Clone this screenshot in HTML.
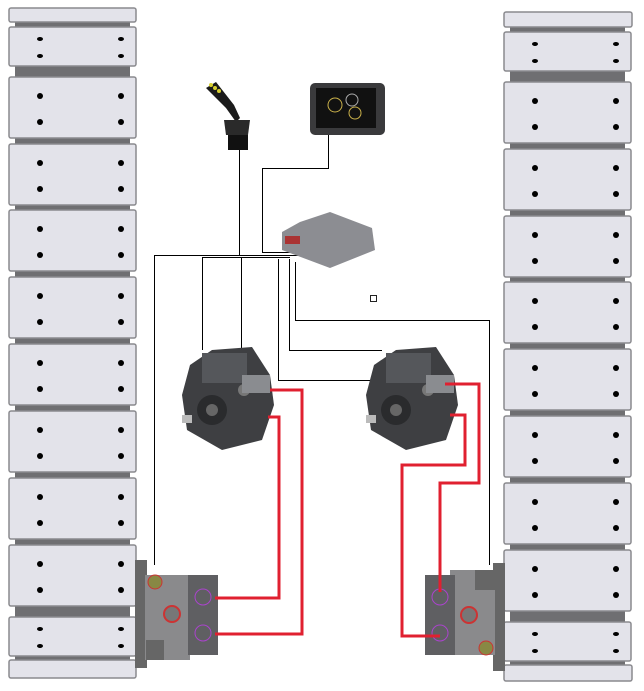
<!DOCTYPE html>
<html><head><style>html,body{margin:0;padding:0;background:#fff;width:644px;height:691px;overflow:hidden}</style></head>
<body>
<svg width="644" height="691" viewBox="0 0 644 691" xmlns="http://www.w3.org/2000/svg">
<defs>
<g id="blk"><rect x="0" y="0" width="127" height="61" rx="2" fill="#e3e3ea" stroke="#8a8a8e" stroke-width="1.5"/>
<circle cx="31" cy="19" r="3" fill="#000"/><circle cx="112" cy="19" r="3" fill="#000"/>
<circle cx="31" cy="45" r="3" fill="#000"/><circle cx="112" cy="45" r="3" fill="#000"/></g>
<g id="sblk"><rect x="0" y="0" width="127" height="39" rx="2" fill="#e3e3ea" stroke="#8a8a8e" stroke-width="1.5"/>
<ellipse cx="31" cy="12" rx="3" ry="2" fill="#000"/><ellipse cx="112" cy="12" rx="3" ry="2" fill="#000"/>
<ellipse cx="31" cy="29" rx="3" ry="2" fill="#000"/><ellipse cx="112" cy="29" rx="3" ry="2" fill="#000"/></g>
<g id="pump">
<path d="M8,20 L30,5 L70,2 L88,30 L92,60 L80,95 L40,105 L5,85 L0,50 Z" fill="#3e3f42"/>
<rect x="20" y="8" width="45" height="30" fill="#55575b"/>
<circle cx="30" cy="65" r="15" fill="#2a2b2d"/><circle cx="30" cy="65" r="6" fill="#666"/>
<circle cx="62" cy="45" r="6" fill="#777"/><rect x="60" y="30" width="28" height="18" fill="#8a8c90"/>
<rect x="0" y="70" width="10" height="8" fill="#bbb"/>
</g>
</defs>
<rect x="15" y="22" width="115" height="56" fill="#6f6f72"/>
<rect x="15" y="138" width="115" height="480" fill="#6f6f72"/>
<rect x="15" y="600" width="115" height="65" fill="#6f6f72"/>
<rect x="9" y="8" width="127" height="14" rx="2" fill="#e3e3ea" stroke="#8a8a8e" stroke-width="1.5"/>
<use href="#sblk" x="9" y="27"/>
<use href="#blk" x="9" y="77"/><use href="#blk" x="9" y="144"/><use href="#blk" x="9" y="210"/>
<use href="#blk" x="9" y="277"/><use href="#blk" x="9" y="344"/><use href="#blk" x="9" y="411"/>
<use href="#blk" x="9" y="478"/><use href="#blk" x="9" y="545"/>
<use href="#sblk" x="9" y="617"/>
<rect x="9" y="660" width="127" height="18" rx="2" fill="#e3e3ea" stroke="#8a8a8e" stroke-width="1.5"/>
<rect x="510" y="26" width="115" height="56" fill="#6f6f72"/>
<rect x="510" y="143" width="115" height="480" fill="#6f6f72"/>
<rect x="510" y="605" width="115" height="65" fill="#6f6f72"/>
<rect x="504" y="12" width="128" height="15" rx="2" fill="#e3e3ea" stroke="#8a8a8e" stroke-width="1.5"/>
<use href="#sblk" x="504" y="32"/>
<use href="#blk" x="504" y="82"/><use href="#blk" x="504" y="149"/><use href="#blk" x="504" y="216"/>
<use href="#blk" x="504" y="282"/><use href="#blk" x="504" y="349"/><use href="#blk" x="504" y="416"/>
<use href="#blk" x="504" y="483"/><use href="#blk" x="504" y="550"/>
<use href="#sblk" x="504" y="622"/>
<rect x="504" y="665" width="128" height="16" rx="2" fill="#e3e3ea" stroke="#8a8a8e" stroke-width="1.5"/>
<g fill="none" stroke="#000" stroke-width="1" shape-rendering="crispEdges">
<path d="M239.5,150 V255.5"/>
<path d="M328.5,128 V168.5 H262.5 V252.5 H290"/>
<path d="M154.5,565 V255.5 H300"/>
<path d="M202.5,350 V257.5 H290"/>
<path d="M241.5,380 V257"/>
<path d="M278.5,259 V380.5 H430"/>
<path d="M289.5,259 V350.5 H382"/>
<path d="M295.5,262 V320.5 H489.5 V565"/>
</g>
<rect x="370.5" y="295.5" width="6" height="6" fill="#fff" stroke="#222"/>
<path d="M206,88 L216,82 L234,105 L240,118 L236,122 L226,108 Z" fill="#1b1b1b"/>
<circle cx="211" cy="85" r="2" fill="#d8d030"/><circle cx="215" cy="88" r="2" fill="#d8d030"/><circle cx="219" cy="91" r="2" fill="#d8d030"/>
<path d="M224,120 L250,120 L248,135 L226,135 Z" fill="#2a2a2a"/>
<rect x="228" y="135" width="20" height="15" fill="#111"/>
<rect x="310" y="83" width="75" height="52" rx="5" fill="#3a3a3c"/>
<rect x="316" y="88" width="60" height="40" fill="#111"/>
<circle cx="335" cy="105" r="7" fill="none" stroke="#c9b04a"/><circle cx="352" cy="100" r="6" fill="none" stroke="#aaa"/><circle cx="355" cy="113" r="6" fill="none" stroke="#c9b04a"/>
<path d="M282,232 L300,222 L330,212 L372,228 L375,250 L330,268 L282,250 Z" fill="#8c8d92"/>
<rect x="285" y="236" width="15" height="8" fill="#a33"/>
<use href="#pump" x="182" y="345"/>
<use href="#pump" x="366" y="345"/>
<g>
<rect x="135" y="560" width="12" height="108" fill="#666"/>
<rect x="145" y="575" width="45" height="85" fill="#8a8a8c"/>
<rect x="188" y="575" width="30" height="80" fill="#5f5f62"/>
<circle cx="155" cy="582" r="7" fill="#884" stroke="#c33"/>
<circle cx="172" cy="614" r="8" fill="#777" stroke="#c33" stroke-width="2"/>
<circle cx="203" cy="597" r="8" fill="none" stroke="#a4c"/><circle cx="203" cy="633" r="8" fill="none" stroke="#a4c"/>
<rect x="146" y="640" width="18" height="20" fill="#666"/>
</g>
<g>
<rect x="493" y="563" width="12" height="108" fill="#666"/>
<rect x="450" y="570" width="45" height="85" fill="#8a8a8c"/>
<rect x="425" y="575" width="30" height="80" fill="#5f5f62"/>
<circle cx="486" cy="648" r="7" fill="#884" stroke="#c33"/>
<circle cx="469" cy="615" r="8" fill="#777" stroke="#c33" stroke-width="2"/>
<circle cx="440" cy="597" r="8" fill="none" stroke="#a4c"/><circle cx="440" cy="633" r="8" fill="none" stroke="#a4c"/>
<rect x="475" y="570" width="20" height="20" fill="#666"/>
</g>
<g fill="none" stroke="#e02030" stroke-width="3">
<path d="M270,390 H302 V634 H215"/>
<path d="M268,417 H279 V598 H215"/>
<path d="M445,384 H479 V483 H440 V592"/>
<path d="M450,415 H465 V465 H402 V636 H440"/>
</g>
</svg>
</body></html>
